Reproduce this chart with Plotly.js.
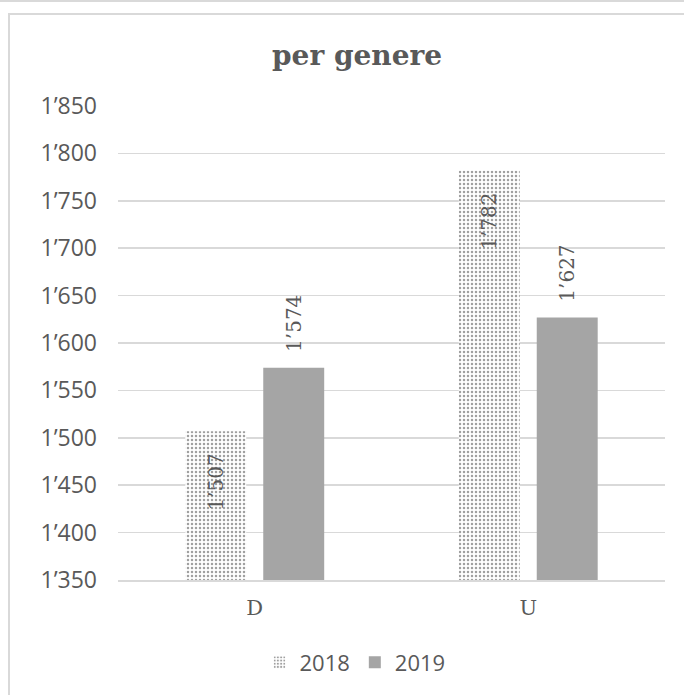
<!DOCTYPE html>
<html>
<head>
<meta charset="utf-8">
<script src="https://cdn.plot.ly/plotly-3.0.1.min.js"></script>
<style>
  html, body { margin: 0; padding: 0; background: #ffffff; }
  #wrap { position: relative; width: 684px; height: 695px; overflow: hidden; }
  #topline { position: absolute; left: 0; top: 0; width: 684px; height: 2px; background: #d9d9d9; }
  #frame { position: absolute; left: 8px; top: 13px; width: 700px; height: 720px;
           border-left: 2px solid #d9d9d9; border-top: 2px solid #d9d9d9; }
  #chart { position: absolute; left: 0; top: 0; width: 684px; height: 695px; }
</style>
</head>
<body>
<div id="wrap">
  <div id="topline"></div>
  <div id="frame"></div>
  <div id="chart"></div>
</div>
<script>
const categories = ["D", "U"];
const series2018 = [1507, 1782];
const series2019 = [1574, 1627];
const seriesNames = ["2018", "2019"];
const yTicks = [1350, 1400, 1450, 1500, 1550, 1600, 1650, 1700, 1750, 1800, 1850];

const textColor = "#595959";
const serif = "DejaVu Serif, Liberation Serif, serif";
const sans = "Open Sans, Noto Sans, sans-serif";
const nb = "\u00a0";

const trace2018 = {
  type: "bar",
  name: seriesNames[0],
  x: categories,
  y: series2018,
  texttemplate: "%{y:,}" + nb + nb + nb,
  textposition: "inside",
  insidetextanchor: "end",
  textangle: -90,
  constraintext: "none",
  textfont: { family: serif, size: 20, color: textColor },
  marker: {
    color: "#ffffff",
    line: { width: 0 },
    pattern: { shape: ".", fgcolor: "#a0a0a0", bgcolor: "#ffffff", size: 4, solidity: 0.3, fillmode: "replace" }
  },
  hoverinfo: "x+y+name"
};

const trace2019 = {
  type: "bar",
  name: seriesNames[1],
  x: categories,
  y: series2019,
  texttemplate: nb + nb + "%{y:,}",
  textposition: "outside",
  textangle: -90,
  constraintext: "none",
  cliponaxis: false,
  textfont: { family: serif, size: 20, color: textColor },
  marker: { color: "#a5a5a5", line: { width: 0 } },
  hoverinfo: "x+y+name"
};

const layout = {
  width: 684,
  height: 695,
  margin: { l: 118, r: 19, t: 106, b: 115 },
  paper_bgcolor: "rgba(0,0,0,0)",
  plot_bgcolor: "rgba(0,0,0,0)",
  separators: ".\u2019",
  barmode: "group",
  bargap: 0.43,
  bargroupgap: 0.218,
  showlegend: true,
  title: {
    text: "<b>per genere</b>",
    font: { family: serif, size: 28, color: textColor },
    xref: "container", yref: "container",
    x: 0.522, y: 0.921, xanchor: "center", yanchor: "middle"
  },
  xaxis: {
    type: "category",
    tickfont: { family: serif, size: 21, color: textColor },
    showline: true,
    linecolor: "#d9d9d9",
    linewidth: 1.5,
    showgrid: false,
    ticks: "",
    ticklabelstandoff: 8
  },
  yaxis: {
    range: [1350, 1850],
    tickvals: yTicks,
    tickformat: ",d",
    tickfont: { family: sans, size: 23, color: textColor },
    showgrid: true,
    gridcolor: "#d9d9d9",
    gridwidth: 1.5,
    zeroline: false,
    showline: false,
    ticks: "",
    ticklabelstandoff: 20
  },
  legend: {
    orientation: "h",
    xref: "container", yref: "container",
    x: 0.519, y: 0.047, xanchor: "center", yanchor: "middle",
    font: { family: sans, size: 22, color: textColor },
    itemwidth: 30,
    traceorder: "normal"
  }
};

Plotly.newPlot("chart", [trace2018, trace2019], layout, { displayModeBar: false, staticPlot: true });
</script>
</body>
</html>
